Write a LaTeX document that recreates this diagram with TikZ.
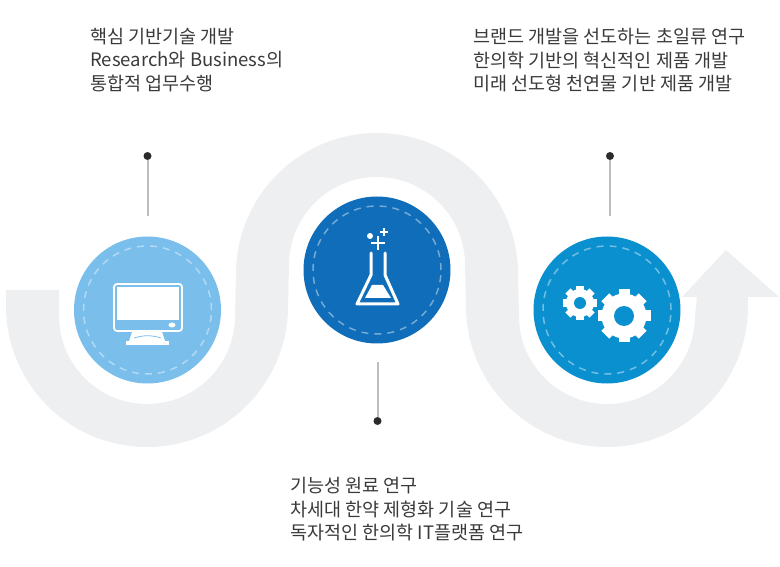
\documentclass[tikz,border=0pt]{standalone}
\usepackage{fontspec}
\setmainfont{Noto Sans CJK KR}
\usetikzlibrary{positioning}

\definecolor{ribbon}{HTML}{EEEFF1}
\definecolor{pcblue}{HTML}{7ABEEC}
\definecolor{flaskblue}{HTML}{0F6DB9}
\definecolor{gearblue}{HTML}{0B90CF}
\definecolor{stemgray}{HTML}{BDBDBD}
\definecolor{dotgray}{HTML}{2B2B2B}
\definecolor{txtgray}{HTML}{3A3A3A}

\begin{document}
\begin{tikzpicture}[x=1pt, y=1pt, thick,
    main/.style = {circle, inner sep=0pt, minimum size=147pt},
    ring/.style = {draw=white, draw opacity=.42, line width=1.5pt, dash pattern=on 7pt off 6pt},
    dotnode/.style = {circle, fill=dotgray, inner sep=0pt, minimum size=8pt},
    stem/.style = {draw=stemgray, line width=2pt},
    txt/.style = {anchor=west, align=left, inner sep=0pt, text=txtgray, font=\fontsize{18.5}{23.5}\selectfont},
    icon/.style = {draw=white, line width=3pt, line join=round, line cap=round}
    ]
\useasboundingbox (0,0) rectangle (780,566);

% ribbon with arrow
\fill[ribbon] (6,276) -- (6,260) arc[start angle=180, end angle=360, radius=141]
    -- (289,301) arc[start angle=180, end angle=0, radius=88]
    -- (466,260) arc[start angle=180, end angle=360, radius=141]
    -- (748,269) -- (779,269) -- (726,316) -- (682,269) -- (697,269)
    -- (695,250) arc[start angle=0, end angle=-180, radius=88]
    -- (518,292) arc[start angle=0, end angle=180, radius=141]
    -- (235,250) arc[start angle=0, end angle=-180, radius=88]
    -- (59,276) -- cycle;

\node[main, fill=pcblue] (pc) at (147.5,256) {};
\node[main, fill=flaskblue] (flask) at (377,296) {};
\node[main, fill=gearblue] (gears) at (607,256) {};

\draw[ring] (pc) circle[radius=64];
\draw[ring] (flask) circle[radius=64];
\draw[ring] (gears) circle[radius=64];

% stems
\node[dotnode] (dot1) at (147.5,410) {};
\node[dotnode] (dot2) at (377.5,145) {};
\node[dotnode] (dot3) at (610,410) {};
\coordinate (end1) at (147.5,350);
\coordinate (end2) at (377.5,204);
\coordinate (end3) at (610,350);
\draw[stem] (dot1) -- (end1);
\draw[stem] (dot2) -- (end2);
\draw[stem] (dot3) -- (end3);

% monitor
\draw[white, line width=1.8pt, rounded corners=3pt] (114,282) rectangle (182,235);
\fill[white] (117,279) rectangle (179,246);
\fill[white] (172,241) ellipse[x radius=3.5, y radius=2.5];
\fill[white] (132,234) -- (162,234) -- (165,225) -- (129,225) -- cycle;
\fill[white] (126,225) rectangle (169,221);
\draw[pcblue, line width=.8pt] (134,228) .. controls (144,231) and (151,231) .. (161,228);

% flask
\draw[icon] (371,313) -- (371,291) -- (357,262) -- (398,262) -- (385,291) -- (385,313);
\fill[white] (372,281) -- (383,281) -- (391,268) -- (365,268) -- cycle;
\draw[white, line width=2.6pt] (371,323) -- (385,323) (378,316) -- (378,330);
\draw[white, line width=2pt] (380,334) -- (388,334) (384,330) -- (384,338);
\fill[white] (370,330) circle[radius=3];

% gears
\foreach \cx/\cy/\rb/\rt/\rh/\tw in {580/263/14/17/6/3.6, 624/250/22.5/26.5/10/5.5} {
    \foreach \a in {0,45,...,315}
        \fill[white, shift={(\cx,\cy)}, rotate=\a] (-\tw,0) rectangle (\tw,\rt);
    \fill[white] (\cx,\cy) circle[radius=\rb];
    \fill[gearblue] (\cx,\cy) circle[radius=\rh];
}

% texts
\node[txt] (text1) at (90,506) {핵심 기반기술 개발\\Research와 Business의\\통합적 업무수행};
\node[txt] (text2) at (473,505.5) {브랜드 개발을 선도하는 초일류 연구\\한의학 기반의 혁신적인 제품 개발\\미래 선도형 천연물 기반 제품 개발};
\node[txt] (text3) at (290,56.5) {기능성 원료 연구\\차세대 한약 제형화 기술 연구\\독자적인 한의학 IT플랫폼 연구};
\end{tikzpicture}
\end{document}
